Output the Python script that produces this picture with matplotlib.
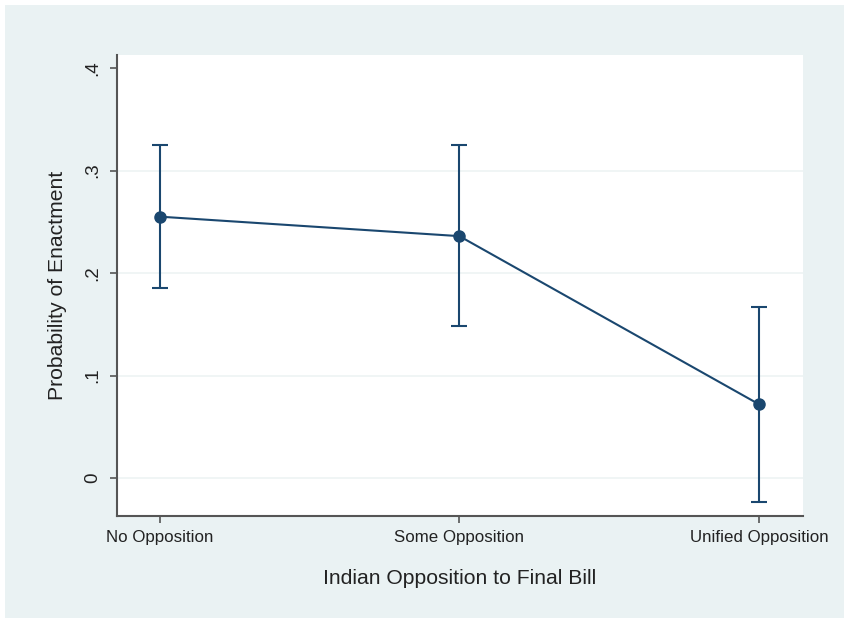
import matplotlib
matplotlib.use("Agg")
import matplotlib.pyplot as plt
from matplotlib.patches import Rectangle

categories = ["No Opposition", "Some Opposition", "Unified Opposition"]
estimates = [0.255, 0.236, 0.072]
ci_lower = [0.185, 0.148, -0.023]
ci_upper = [0.325, 0.325, 0.167]
yticks = [0, 0.1, 0.2, 0.3, 0.4]
yticklabels = ["0", ".1", ".2", ".3", ".4"]

W, H = 844, 618
bg = "#EAF2F3"
navy = "#1A476F"
plt.rcParams['font.family'] = ['Liberation Sans', 'DejaVu Sans']

fig = plt.figure(figsize=(W/100, H/100), dpi=100)
fig.patch.set_facecolor("white")
fig.patches.append(Rectangle((5/W, 0), 1 - 5/W, 1 - 5/H, transform=fig.transFigure,
                             facecolor=bg, edgecolor="none", zorder=-10))

left, right, top, bottom = 117, 803, 55, 516
ax = fig.add_axes([left/W, 1 - bottom/H, (right-left)/W, (bottom-top)/H])
ax.set_facecolor("white")

x = list(range(len(categories)))
yerr = [[e - l for e, l in zip(estimates, ci_lower)], [u - e for e, u in zip(estimates, ci_upper)]]
ax.errorbar(x, estimates, yerr=yerr, color=navy, lw=1.5, marker="o", ms=8,
            capsize=6, capthick=1.5, ecolor=navy, zorder=3)

ax.set_xlim(-0.143, 2.147)
ax.set_ylim(-0.037, 0.4127)
for g in yticks[:-1]:
    ax.axhline(g, color="#EEF3F4", lw=1.2, zorder=0)

ax.set_yticks(yticks)
ax.set_yticklabels(yticklabels, rotation=90, va="center", fontsize=13.5)
ax.set_xticks(x)
ax.set_xticklabels(categories, fontsize=12.2)
ax.tick_params(axis="both", length=5, width=1.2, color="#555555", labelcolor="#222222")
ax.tick_params(axis="y", pad=6)
ax.tick_params(axis="x", pad=5)

for s in ["top", "right"]:
    ax.spines[s].set_visible(False)
for s in ["left", "bottom"]:
    ax.spines[s].set_color("#555555")
    ax.spines[s].set_linewidth(1.5)

ax.set_ylabel("Probability of Enactment", fontsize=15.2, color="#222222", labelpad=13)
ax.set_xlabel("Indian Opposition to Final Bill", fontsize=15.2, color="#222222", labelpad=17)

fig.savefig("out.png", dpi=100, facecolor=fig.get_facecolor())
